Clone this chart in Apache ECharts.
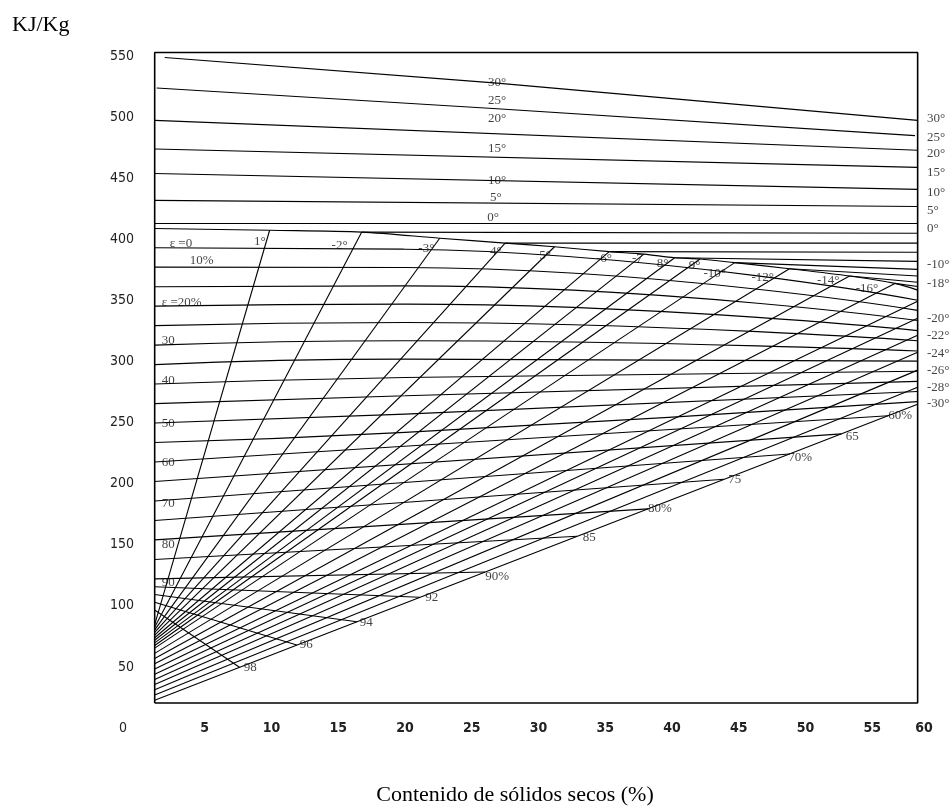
<!DOCTYPE html>
<html>
<head>
<meta charset="utf-8">
<script src="https://cdn.jsdelivr.net/npm/echarts@6/dist/echarts.min.js"></script>
<style>
  html, body { margin: 0; padding: 0; background: #fff; }
  #chart { width: 952px; height: 811px; }
</style>
</head>
<body>
<div id="chart"></div>
<script>
// Axis ticks
const xTicks = [0, 5, 10, 15, 20, 25, 30, 35, 40, 45, 50, 55, 60];
const yTicks = [0, 50, 100, 150, 200, 250, 300, 350, 400, 450, 500, 550];

// Plot frame, in axis units
const frameX = [1.25, 58.4];
const frameY = [20.5, 553];

// Isotherms above freezing (solids %, kJ/kg)
const isotherm30 = [[2.0, 549], [26.9, 528], [58.4, 497.5]];
const isotherm25 = [[1.4, 524], [26.9, 507], [58.2, 485]];
const isotherm20 = [[1.25, 497.5], [58.4, 473]];
const isotherm15 = [[1.25, 474], [58.4, 459]];
const isotherm10 = [[1.25, 454], [58.4, 441]];
const isotherm5  = [[1.25, 432], [58.4, 427]];
const isotherm0  = [[1.25, 413], [58.4, 413]];

// Initial freezing curve (no ice)
const freezingCurve = [[1.25, 409], [9.86, 407.5], [16.76, 406], [22.6, 401], [27.5, 397],
  [31.2, 394], [35.3, 390], [37.9, 388], [40.2, 385], [42.1, 384], [44.7, 381],
  [48.8, 376], [53.3, 370], [56.7, 364], [58.4, 358.5]];

// Isotherms below freezing: temperature, enthalpy at the left edge, upper end point
const frozenTemps  = [-1, -2, -3, -4, -5, -6, -7, -8, -9, -10, -12, -14, -16, -18, -20, -22, -24, -26, -28, -30];
const frozenStartH = [84.6, 82.5, 80.3, 78.2, 76.1, 73.9, 71.8, 69.7, 67.5, 65.4, 61.1, 56.9, 52.6, 48.4, 44.1, 39.8, 35.6, 31.3, 27.1, 22.8];
const frozenEnds   = [[9.86, 407.5], [16.76, 406], [22.6, 401], [27.5, 397], [31.2, 394], [35.3, 390],
  [37.9, 388], [40.2, 385], [42.1, 384], [44.7, 381], [48.8, 376], [53.3, 370], [56.7, 364],
  [58.4, 349.4], [58.4, 335.5], [58.4, 321.6], [58.4, 307.7], [58.4, 293], [58.4, 279], [58.4, 265]];

// Sub-zero isotherms in the unfrozen zone: start on the freezing curve, end at the right edge
const liquidSubzeroTemps = [-2, -4, -6, -8, -10, -12, -14, -16];
const liquidSubzeroStart = [[16.76, 406], [27.5, 397], [35.3, 390], [40.2, 385], [44.7, 381], [48.8, 376], [53.3, 370], [56.7, 364]];
const liquidSubzeroEndH  = [405, 397, 389.5, 382, 375.5, 370, 365, 361.5];

// Lines of constant frozen water fraction (%): enthalpy at the left edge,
// enthalpy near 20 % solids (upper lines only), and end point
const iceFractions = [5, 10, 15, 20, 25, 30, 35, 40, 45, 50, 55, 60, 65, 70, 75, 80, 85, 90, 92, 94, 96, 98];
const iceStartH    = [393.2, 377.3, 361.3, 345.4, 329.4, 313.5, 297.5, 281.6, 265.6, 249.7, 233.7,
  217.8, 201.8, 185.9, 169.9, 154, 138, 122.1, 115.7, 109.3, 102.9, 96.6];
const iceMidH      = [392, 377, 362, 347, 332, 317, 302, 287, 272, 257, 242];
const iceEnds      = [[58.4, 350.2], [58.4, 341.9], [58.4, 333.6], [58.4, 325.3], [58.4, 317], [58.4, 308.7],
  [58.4, 300.4], [58.4, 292.1], [58.4, 283.8], [58.4, 275.5], [58.4, 267.2],
  [56.2, 255.7], [52.7, 240.8], [48.8, 224.3], [43.9, 203.6], [38.2, 179.4], [32.9, 157],
  [26, 127.7], [21.1, 107], [16.4, 87], [11.9, 67.9], [7.6, 49.7]];

// Text annotations: [solids %, kJ/kg, text]
const rightLabels = [[59.1, 499, '30°'], [59.1, 483.6, '25°'], [59.1, 470.5, '20°'], [59.1, 455, '15°'],
  [59.1, 438.6, '10°'], [59.1, 424, '5°'], [59.1, 409, '0°'], [59.1, 379.7, '-10°'], [59.1, 364, '-18°'],
  [59.1, 335.5, '-20°'], [59.1, 321.6, '-22°'], [59.1, 306.9, '-24°'], [59.1, 293, '-26°'],
  [59.1, 279, '-28°'], [59.1, 266, '-30°']];
const warmLabels = [[26.9, 528.6, '30°'], [26.9, 514, '25°'], [26.9, 499, '20°'], [26.9, 474.6, '15°'],
  [26.9, 448.4, '10°'], [26.8, 434.5, '5°'], [26.6, 418.2, '0°']];
const frozenLabels = [[9.13, 398.5, '1°'], [15.1, 395.3, '-2°'], [21.6, 392.8, '-3°'], [26.8, 390.3, '4°'],
  [30.5, 387, '5°'], [34.9, 384.6, '-6°'], [37.4, 384.6, '-7'], [39.3, 380.5, '8°'], [41.7, 378.9, '9°'],
  [43.2, 372.3, '-10°'], [46.8, 369, '-12°'], [51.7, 366.6, '-14°'], [54.6, 360, '-16°']];
const fractionLabelsLeft = [[2.37, 397, 'ε =0'], [3.87, 383, '10%'], [1.78, 348.6, 'ε =20%'], [1.78, 317.5, '30'],
  [1.78, 284.8, '40'], [1.78, 249.6, '50'], [1.78, 216.9, '60'], [1.78, 184.1, '70'], [1.78, 149.8, '80'],
  [1.78, 118.7, '90']];
const fractionLabelsLow = [[57.1, 256, '60%'], [53.5, 239, '65'], [49.6, 221.8, '70%'], [44.7, 203, '75'],
  [39.1, 180, '80%'], [33.8, 156.3, '85'], [26.9, 123.6, '90%'], [22, 106.4, '92'], [17.1, 86.7, '94'],
  [12.6, 67.9, '96'], [8.4, 49.1, '98']];

const LEFT = frameX[0];
const RIGHT = frameX[1];
const MID_X = 20;

function curve(name, pts, width, smooth) {
  return {
    name: name, type: 'line', data: pts, showSymbol: false, symbol: 'none',
    clip: false, silent: true, z: 2, smooth: smooth || false,
    lineStyle: { color: '#000', width: width || 1.1 }
  };
}

function textLayer(items, align) {
  return {
    type: 'scatter', symbolSize: 0, clip: false, silent: true, z: 5,
    data: items.map(d => ({ value: [d[0], d[1]], name: d[2] })),
    label: {
      show: true, position: 'inside', formatter: p => p.name,
      align: align, verticalAlign: 'middle',
      fontFamily: 'Liberation Serif', fontSize: 13, color: '#111'
    }
  };
}

const series = [];
series.push(curve('frame', [[frameX[0], frameY[0]], [frameX[1], frameY[0]], [frameX[1], frameY[1]],
  [frameX[0], frameY[1]], [frameX[0], frameY[0]]], 1.6));
[isotherm30, isotherm25, isotherm20, isotherm15, isotherm10, isotherm5, isotherm0]
  .forEach((p, i) => series.push(curve('warm' + i, p)));
series.push(curve('freezing', freezingCurve, 1.1, 0.3));
frozenTemps.forEach((t, i) => series.push(curve('T' + t, [[LEFT, frozenStartH[i]], frozenEnds[i]])));
liquidSubzeroTemps.forEach((t, i) => series.push(curve('L' + t, [liquidSubzeroStart[i], [RIGHT, liquidSubzeroEndH[i]]])));
iceFractions.forEach((f, i) => {
  const pts = [[LEFT, iceStartH[i]]];
  if (i < iceMidH.length) pts.push([MID_X, iceMidH[i]]);
  pts.push(iceEnds[i]);
  series.push(curve('ice' + f, pts, 1.1, 0.5));
});
series.push(textLayer(rightLabels, 'left'));
series.push(textLayer(warmLabels, 'center'));
series.push(textLayer(frozenLabels, 'center'));
series.push(textLayer(fractionLabelsLeft, 'left'));
series.push(textLayer(fractionLabelsLow, 'center'));

const axisFont = { fontFamily: 'DejaVu Sans Condensed', fontSize: 14, color: '#222' };

const chart = echarts.init(document.getElementById('chart'), null, { renderer: 'canvas' });
chart.setOption({
  animation: false,
  backgroundColor: '#fff',
  grid: { left: 138, right: 13, top: 44, bottom: 83, containLabel: false },
  xAxis: {
    type: 'value', min: 0, max: 60, interval: 5,
    axisLine: { show: false }, axisTick: { show: false }, splitLine: { show: false },
    axisLabel: Object.assign({}, axisFont, {
      margin: -7, fontWeight: 'bold',
      formatter: v => (v === 0 || !xTicks.includes(v)) ? '' : (v === 60 ? '{end|60}' : String(v)),
      rich: { end: { fontFamily: 'DejaVu Sans Condensed', fontSize: 14, fontWeight: 'bold', color: '#222', padding: [0, 30, 0, 0] } }
    })
  },
  yAxis: {
    type: 'value', min: 0, max: 560, interval: 50,
    axisLine: { show: false }, axisTick: { show: false }, splitLine: { show: false },
    axisLabel: Object.assign({}, axisFont, {
      margin: 4,
      formatter: v => v === 0 ? '{zero|0}' : (yTicks.includes(v) ? String(v) : ''),
      rich: { zero: { fontFamily: 'DejaVu Sans Condensed', fontSize: 14, color: '#222', padding: [0, 7, 0, 0] } }
    })
  },
  graphic: [
    { type: 'text', x: 12, y: 14, style: { text: 'KJ/Kg', font: '22px "Liberation Serif"', fill: '#000' } },
    { type: 'text', x: 515, y: 795, style: { text: 'Contenido de sólidos secos (%)', font: '22px "Liberation Serif"',
      fill: '#000', textAlign: 'center', textVerticalAlign: 'middle' } }
  ],
  series: series
});
</script>
</body>
</html>
